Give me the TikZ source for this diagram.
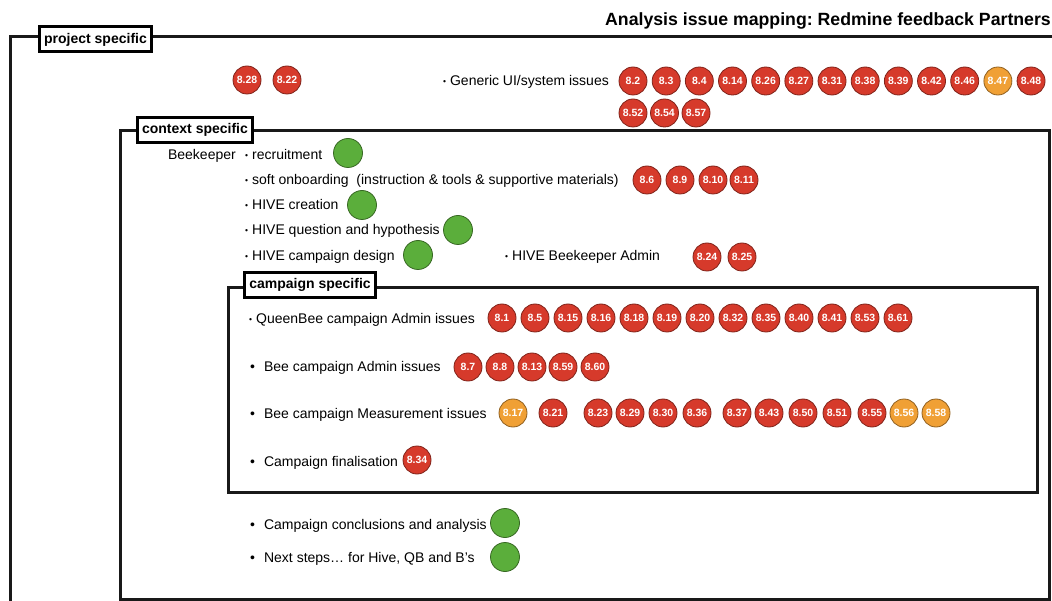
\documentclass[tikz,border=0pt]{standalone}
\usepackage{fontspec}
\setmainfont{Liberation Sans}
\definecolor{rd}{HTML}{D63A2B}
\definecolor{amb}{HTML}{F0A035}
\definecolor{grn}{HTML}{5BAE3B}
\newcommand{\sbul}{\raisebox{1pt}{\fontsize{8.5}{8.5}\selectfont\textbullet}\hspace{4pt}}
\newcommand{\lbul}{\textbullet\hspace{9pt}}
\frenchspacing
\begin{document}
\begin{tikzpicture}[x=1pt,y=-1pt,
  frame/.style={line width=3pt, black!90},
  tag/.style={draw=black, line width=3pt, fill=white, inner xsep=5pt, inner ysep=0pt,
    minimum height=25pt, font=\fontsize{14}{15}\selectfont\bfseries},
  item/.style={anchor=base west, inner sep=0pt, font=\fontsize{14}{16}\selectfont},
  iss/.style={circle, minimum size=28pt, inner sep=0pt, line width=0.8pt,
    text=white, font=\fontsize{10.5}{10.5}\selectfont\bfseries},
  dot/.style={circle, minimum size=29pt, inner sep=0pt, line width=0.8pt,
    fill=grn, draw=grn!60!black}
]
\useasboundingbox (0,0) rectangle (1052,601);

% title
\node[anchor=base east, inner sep=0pt, font=\fontsize{17.7}{19}\selectfont\bfseries]
  (title) at (1051,26) {Analysis issue mapping: Redmine feedback Partners};

% nested scope frames
\draw[frame] (10,605) -- (10,37) -- (1056,37);
\draw[frame] (120,599) rectangle (1049,131);
\draw[frame] (228,492) rectangle (1037,288);

\node[tag] (proj) at (95.5,39.5) {project specific};
\node[tag] (ctx) at (195,130) {context specific};
\node[tag] (camp) at (310,285) {campaign specific};

% project level
\foreach \x/\lab in {247/8.28, 287/8.22}
  \node[iss, fill=rd, draw=rd!60!black] (p\lab) at (\x,80) {\lab};
\node[item, anchor=base east] (gen) at (609,86) {\sbul Generic UI/system issues};
\foreach \lab/\c [count=\i from 0] in {8.2/rd,8.3/rd,8.4/rd,8.14/rd,8.26/rd,8.27/rd,8.31/rd,
    8.38/rd,8.39/rd,8.42/rd,8.46/rd,8.47/amb,8.48/rd}
  \node[iss, fill=\c, draw=\c!60!black] (ga\i) at (633+33.17*\i,81) {\lab};
\foreach \lab [count=\i from 0] in {8.52,8.54,8.57}
  \node[iss, fill=rd, draw=rd!60!black] (gb\i) at (633+31.5*\i,113) {\lab};

% context level
\node[item, anchor=base east] (bk) at (236,160) {Beekeeper};
\node[item] (rec) at (245,160) {\sbul recruitment};
\node[dot] (recd) at (348,153) {};
\node[item] (soft) at (245,185) {\sbul soft onboarding\ \ (instruction \& tools \& supportive materials)};
\foreach \x/\lab in {647/8.6, 680/8.9, 713/8.10, 744/8.11}
  \node[iss, fill=rd, draw=rd!60!black] (s\lab) at (\x,180) {\lab};
\node[item] (hc) at (245,210) {\sbul HIVE creation};
\node[dot] (hcd) at (362,205) {};
\node[item] (hq) at (245,235) {\sbul HIVE question and hypothesis};
\node[dot] (hqd) at (458,230) {};
\node[item] (hd) at (245,261) {\sbul HIVE campaign design};
\node[dot] (hdd) at (418,255) {};
\node[item] (ha) at (505,261) {\sbul HIVE Beekeeper Admin};
\foreach \x/\lab in {707/8.24, 742/8.25}
  \node[iss, fill=rd, draw=rd!60!black] (a\lab) at (\x,257) {\lab};

% campaign level
\node[item] (qb) at (249,324) {\sbul QueenBee campaign Admin issues};
\foreach \lab [count=\i from 0] in {8.1,8.5,8.15,8.16,8.18,8.19,8.20,8.32,8.35,8.40,8.41,8.53,8.61}
  \node[iss, fill=rd, draw=rd!60!black] (q\i) at (502+33*\i,318) {\lab};
\node[item] (ba) at (250,372) {\lbul Bee campaign Admin issues};
\foreach \x/\lab in {468/8.7, 500/8.8, 532/8.13, 563/8.59, 595/8.60}
  \node[iss, fill=rd, draw=rd!60!black] (b\lab) at (\x,367) {\lab};
\node[item] (bm) at (250,418) {\lbul Bee campaign Measurement issues};
\foreach \x/\lab/\c in {513/8.17/amb, 553/8.21/rd, 598/8.23/rd, 630/8.29/rd, 663/8.30/rd,
    697/8.36/rd, 737/8.37/rd, 769/8.43/rd, 803/8.50/rd, 837/8.51/rd, 872/8.55/rd,
    904/8.56/amb, 936/8.58/amb}
  \node[iss, fill=\c, draw=\c!60!black] (m\lab) at (\x,413) {\lab};
\node[item] (fin) at (250,466) {\lbul Campaign finalisation};
\node[iss, fill=rd, draw=rd!60!black] (f834) at (417,460) {8.34};

% after the campaign
\node[item] (conc) at (250,529) {\lbul Campaign conclusions and analysis};
\node[dot] (concd) at (505,523) {};
\node[item] (next) at (250,562) {\lbul Next steps\dots\ for Hive, QB and B's};
\node[dot] (nextd) at (505,557) {};
\end{tikzpicture}
\end{document}
